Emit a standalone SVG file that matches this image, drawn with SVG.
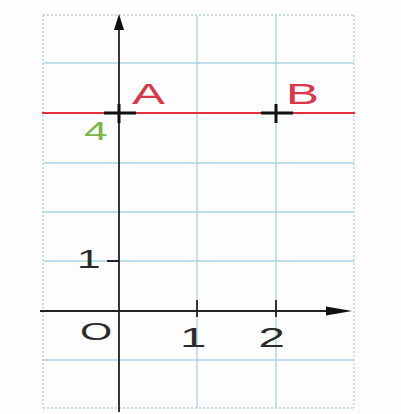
<svg xmlns="http://www.w3.org/2000/svg" width="401" height="414" viewBox="0 0 401 414">
<defs>
<style>
.grid{stroke:#a9d3e6;stroke-width:1.3;fill:none}
.edge{stroke:#b9cbd6;stroke-width:1.3;stroke-dasharray:2 2;fill:none}
.axis{stroke:#222;stroke-width:1.8;fill:none}
.cross{stroke:#111;stroke-width:3;fill:none}
.lbl{font-family:"Liberation Sans",Arial,sans-serif}
.dark{fill:#2b2b2b}
.red{fill:#dc3548}
</style>
<marker id="arr" viewBox="0 0 10 16" refX="5" refY="1" markerWidth="10" markerHeight="16" markerUnits="userSpaceOnUse" orient="0">
<path d="M5,0 L10,16 L0,16 Z" fill="#111"/>
</marker>
<marker id="arrH" viewBox="0 0 26 10" refX="25" refY="5" markerWidth="26" markerHeight="10" markerUnits="userSpaceOnUse" orient="0">
<path d="M0,0.5 L26,5 L0,9.5 Z" fill="#111"/>
</marker>
</defs>
<rect width="401" height="414" fill="#fdfdfd"/>
<g id="grid">
<path class="edge" d="M43,15 V408 M354,15 V408 M43,15 H354 M43,408 H354"/>
<path class="grid" d="M197,15 V408 M276,15 V408"/>
<path class="grid" d="M43,63 H354 M43,163 H354 M43,212 H354 M43,261 H354 M43,360 H354"/>
</g>
<g id="connectors">
<line id="red-line" x1="42" y1="113" x2="355" y2="113" stroke="#e0303f" stroke-width="2"/>
<line id="y-axis" class="axis" x1="119" y1="412" x2="119" y2="28"/>
<line id="x-axis" class="axis" x1="40" y1="311" x2="330" y2="311"/>
<path d="M119,14 L124,30 L114,30 Z" fill="#111"/>
<path d="M352,311 L326,306.5 L326,315.5 Z" fill="#111"/>
<path class="axis" d="M107,261 H119 M197,300 V317 M276,300 V317" stroke-width="1.6"/>
</g>
<g id="A">
<path class="cross" d="M104,113 H136 M119,104 V123"/>
<text class="lbl red" font-size="29" transform="translate(132,104) scale(1.7,1)">A</text>
</g>
<g id="B">
<path class="cross" d="M261,113 H293 M276,104 V123"/>
<text class="lbl red" font-size="29" transform="translate(286,104) scale(1.7,1)">B</text>
</g>
<g id="labels">
<text class="lbl" font-size="25" fill="#7bb647" transform="translate(84,140) scale(1.7,1)">4</text>
<text class="lbl dark" font-size="25" transform="translate(77,268) scale(1.7,1)">1</text>
<text class="lbl dark" font-size="23" transform="translate(80,340) scale(1.8,1)">O</text>
<text class="lbl dark" font-size="28" transform="translate(180,347) scale(1.7,1)">1</text>
<text class="lbl dark" font-size="28" transform="translate(258.5,347) scale(1.7,1)">2</text>
</g>
</svg>
